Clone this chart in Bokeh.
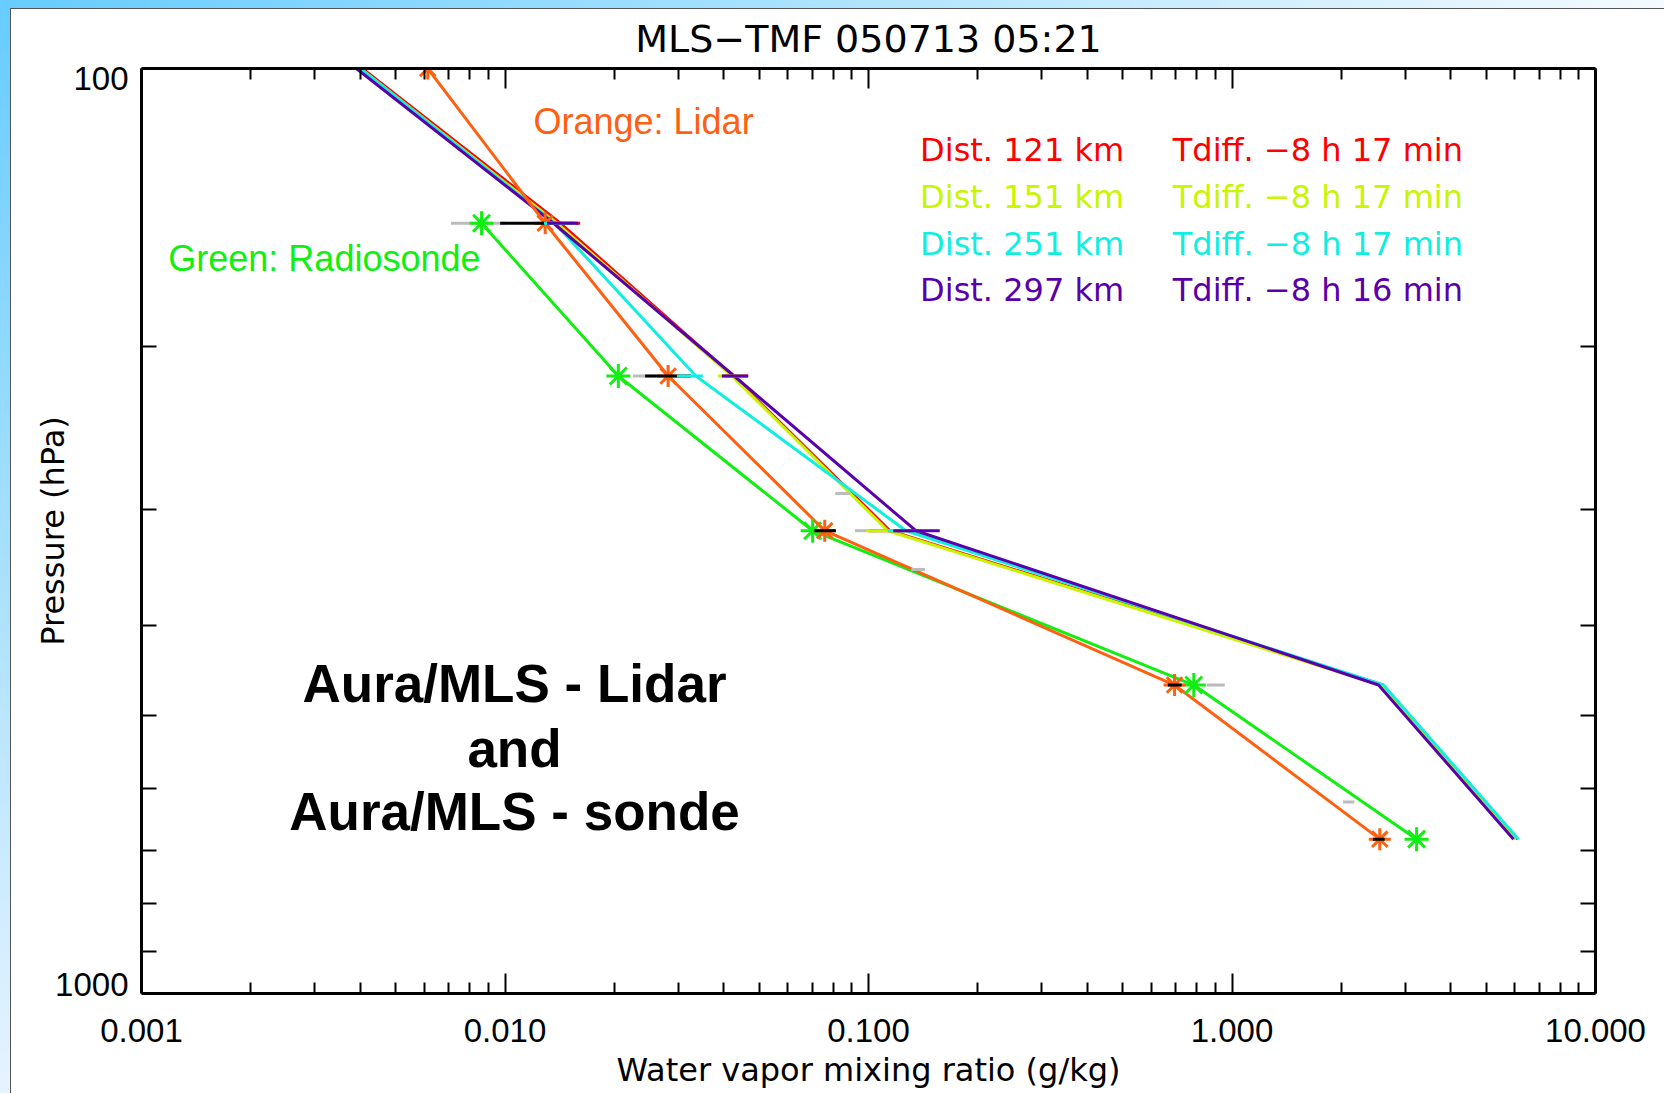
from bokeh.plotting import figure
from bokeh.models import Range1d, FixedTicker, LogAxis, Label, NumeralTickFormatter
from bokeh.embed import file_html
from bokeh.resources import INLINE

# ---------------- data ----------------
mls_p = [100, 147, 215, 316, 464, 681]
mls_red = [0.00405, 0.0142, 0.0424, 0.1145, 2.60, 6.10]
mls_yellow = [0.00400, 0.0139, 0.0421, 0.113, 2.56, 6.02]
mls_cyan = [0.00400, 0.0137, 0.0335, 0.1267, 2.61, 6.14]
mls_purple = [0.00390, 0.0136, 0.0427, 0.135, 2.53, 5.95]

lidar_p = [100, 147, 215, 316, 464, 681]
lidar_h2o = [0.00613, 0.0129, 0.0281, 0.0758, 0.695, 2.55]
sonde_p = [147, 215, 316, 464, 681]
sonde_h2o = [0.00862, 0.0205, 0.0702, 0.785, 3.22]

lidar_err_p = [147, 215, 316, 464, 681]
lidar_err_lo = [0.0097, 0.0243, 0.071, 0.666, 2.44]
lidar_err_hi = [0.0156, 0.0325, 0.0813, 0.727, 2.63]
sonde_err_p = [147, 215, 288, 316, 348, 464, 621]
sonde_err_lo = [0.0071, 0.0225, 0.081, 0.0918, 0.131, 0.852, 2.02]
sonde_err_hi = [0.0100, 0.0260, 0.089, 0.105, 0.143, 0.955, 2.17]
mls_err_p = [100, 147, 215, 316]
red_err_lo = [0.00355, 0.0130, 0.0395, 0.100]
red_err_hi = [0.00454, 0.0161, 0.0465, 0.130]
yellow_err_lo = [0.0035, 0.0129, 0.0385, 0.0984]
yellow_err_hi = [0.0044, 0.0157, 0.0457, 0.128]
cyan_err_lo = [0.0035, 0.0128, 0.0297, 0.113]
cyan_err_hi = [0.00448, 0.0156, 0.0350, 0.140]
purple_err_lo = [0.00337, 0.01305, 0.0395, 0.117]
purple_err_hi = [0.0042, 0.0159, 0.0467, 0.157]

x_major = [0.001, 0.01, 0.1, 1.0, 10.0]
x_minor = [k * 10.0 ** e for e in range(-3, 1) for k in range(2, 10)]
y_label_ticks = [102.5, 977.0]          # label anchors (ticks themselves have zero length)
y_label_text = ["100", "1000"]
y_minor = [200, 300, 400, 500, 600, 700, 800, 900]

legend_dist = ["Dist. 121 km", "Dist. 151 km", "Dist. 251 km", "Dist. 297 km"]
legend_tdiff = ["Tdiff. \u22128 h 17 min", "Tdiff. \u22128 h 17 min",
                "Tdiff. \u22128 h 17 min", "Tdiff. \u22128 h 16 min"]

RED, YEL, CYA, PUR = "#FF0000", "#C8F500", "#10EEE0", "#5A00AA"
ORA, GRN = "#FF6010", "#11EE11"
legend_colors = [RED, YEL, CYA, PUR]

# ---------------- geometry ----------------
W, H = 1664, 1093
FL, FR, FT, FB = 141, 1595, 68, 993


def px2x(px):
    return 10 ** (-3 + 4.0 * (px - FL) / (FR - FL))


def py2y(py):
    return 10 ** (2 + (py - FT) / (FB - FT))


p = figure(width=W, height=H, x_axis_type="log", y_axis_type="log",
           x_range=Range1d(0.001, 10), y_range=Range1d(1000, 100),
           output_backend="svg", toolbar_location=None,
           min_border_left=FL, min_border_right=W - FR,
           min_border_top=FT, min_border_bottom=H - FB)
p.grid.visible = False
p.outline_line_color = None
p.background_fill_color = "white"
p.border_fill_color = None
p.styles = {
    "background": (
        "linear-gradient(#ffffff, #ffffff) 11px 9px / calc(100% - 11px) calc(100% - 9px) no-repeat, "
        "linear-gradient(#555555, #555555) 10px 8px / calc(100% - 10px) calc(100% - 8px) no-repeat, "
        "linear-gradient(to right, #66CCFF, #F4FAFF) 0 0 / 100% 8px no-repeat, "
        "linear-gradient(to bottom, #66CCFF, #E6F3FE) 0 0 / 10px 100% no-repeat"
    )
}

# title
p.title.text = "MLS\u2212TMF 050713 05:21"
p.title.text_font = "DejaVu Sans"
p.title.text_font_size = "38px"
p.title.text_font_style = "normal"
p.title.text_color = "black"
p.title.align = "center"
p.title.standoff = 15

xa = p.xaxis[0]
ya = p.yaxis[0]
xa_top = LogAxis()
ya_right = LogAxis()
p.add_layout(xa_top, "above")
p.add_layout(ya_right, "right")

for ax in (xa, xa_top):
    ax.ticker = FixedTicker(ticks=x_major, minor_ticks=x_minor)
    ax.major_tick_in = 20
    ax.major_tick_out = 0
    ax.minor_tick_in = 11
    ax.minor_tick_out = 0
for ax in (ya, ya_right):
    ax.ticker = FixedTicker(ticks=y_label_ticks, minor_ticks=y_minor)
    ax.major_tick_in = 0
    ax.major_tick_out = 0
    ax.minor_tick_in = 15
    ax.minor_tick_out = 0
for ax in (xa, xa_top, ya, ya_right):
    ax.axis_line_width = 3
    ax.axis_line_color = "black"
    ax.major_tick_line_width = 2
    ax.minor_tick_line_width = 2
    ax.major_tick_line_color = "black"
    ax.minor_tick_line_color = "black"

xa_top.major_label_overrides = {t: "" for t in x_major}
xa_top.major_label_text_font_size = "2px"
xa_top.major_label_standoff = 0
ya_right.major_label_overrides = {t: "" for t in y_label_ticks}
ya_right.major_label_text_font_size = "2px"
ya_right.major_label_standoff = 0

xa.formatter = NumeralTickFormatter(format="0.000")
xa.major_label_text_font = "Liberation Sans"
xa.major_label_text_font_size = "33px"
xa.major_label_text_color = "black"
xa.major_label_standoff = 25
xa.axis_label = "Water vapor mixing ratio (g/kg)"
xa.axis_label_text_font = "DejaVu Sans"
xa.axis_label_text_font_size = "32px"
xa.axis_label_text_font_style = "normal"
xa.axis_label_text_color = "black"
xa.axis_label_standoff = 6

ya.major_label_overrides = dict(zip(y_label_ticks, y_label_text))
ya.major_label_text_font = "Liberation Sans"
ya.major_label_text_font_size = "33px"
ya.major_label_text_color = "black"
ya.major_label_standoff = 13
ya.axis_label = "Pressure (hPa)"
ya.axis_label_text_font = "DejaVu Sans"
ya.axis_label_text_font_size = "32px"
ya.axis_label_text_font_style = "normal"
ya.axis_label_text_color = "black"
ya.axis_label_standoff = -20

# ---------------- profiles ----------------
for vals, col in ((mls_red, RED), (mls_yellow, YEL), (mls_cyan, CYA), (mls_purple, PUR)):
    p.line(vals, mls_p, line_color=col, line_width=3)
p.line(sonde_h2o, sonde_p, line_color=GRN, line_width=3)
p.line(lidar_h2o, lidar_p, line_color=ORA, line_width=3)

# sonde error bars (gray)
p.segment(x0=sonde_err_lo, y0=sonde_err_p, x1=sonde_err_hi, y1=sonde_err_p,
          line_color="#BBBBBB", line_width=3)
# markers
p.scatter(sonde_h2o, sonde_p, marker="asterisk", size=24, line_color=GRN, line_width=3)
p.scatter(lidar_h2o, lidar_p, marker="asterisk", size=22, line_color=ORA, line_width=3)
# lidar error bars (black)
p.segment(x0=lidar_err_lo, y0=lidar_err_p, x1=lidar_err_hi, y1=lidar_err_p,
          line_color="black", line_width=3)
# MLS error bars
for lo, hi, col in ((red_err_lo, red_err_hi, RED), (yellow_err_lo, yellow_err_hi, YEL),
                    (cyan_err_lo, cyan_err_hi, CYA), (purple_err_lo, purple_err_hi, PUR)):
    p.segment(x0=lo, y0=mls_err_p, x1=hi, y1=mls_err_p, line_color=col, line_width=3)


# ---------------- texts inside the frame ----------------
def add_label(text, px, py, font, size, color="black", align="left", style="normal"):
    p.add_layout(Label(x=px2x(px), y=py2y(py), text=text, text_font=font,
                       text_font_size=size, text_color=color, text_align=align,
                       text_baseline="middle", text_font_style=style))


add_label("Orange: Lidar", 533, 121, "Liberation Sans", "36px", color=ORA)
add_label("Green: Radiosonde", 167.8, 258, "Liberation Sans", "36px", color=GRN)

row_center = [149.7, 196.4, 243.2, 289.9]
for i in range(4):
    add_label(legend_dist[i], 919.6, row_center[i], "DejaVu Sans", "32px", color=legend_colors[i])
    add_label(legend_tdiff[i], 1172.3, row_center[i], "DejaVu Sans", "32px", color=legend_colors[i])

add_label("Aura/MLS - Lidar", 514, 683, "Liberation Sans", "53px", align="center", style="bold")
add_label("and", 514, 747.6, "Liberation Sans", "53px", align="center", style="bold")
add_label("Aura/MLS - sonde", 514, 811.3, "Liberation Sans", "53px", align="center", style="bold")

open("out.html", "w").write(file_html(p, INLINE))
